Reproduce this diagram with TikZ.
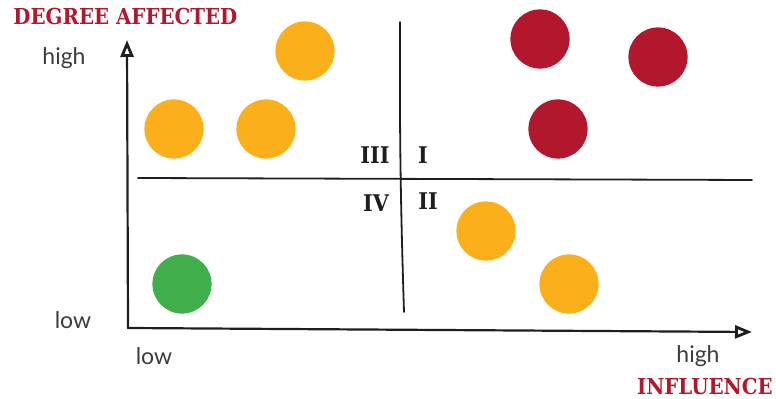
\documentclass[tikz,border=0pt]{standalone}
\usepackage{fontspec}
\usetikzlibrary{arrows.meta,positioning}
\setsansfont{Lato}
\newfontfamily\slabfont[FakeStretch=0.9]{DejaVu Serif}
\definecolor{gridred}{HTML}{B3172D}
\definecolor{gridorange}{HTML}{FBAF1B}
\definecolor{gridgreen}{HTML}{40AE4B}
\definecolor{gridink}{HTML}{1E1E1E}
\definecolor{gridgrey}{HTML}{3C3C3C}
\tikzset{
  grid dot/.style={
    circle,
    draw=none,
    minimum size=29.6pt,
    inner sep=0pt,
  },
  grid dot red/.style={grid dot, fill=gridred},
  grid dot orange/.style={grid dot, fill=gridorange},
  grid dot green/.style={grid dot, fill=gridgreen},
  grid axis/.style={
    -{Triangle[open, length=8.5pt, width=6.5pt, line width=1.4pt]},
    line width=1.1pt,
    draw=gridink,
    line cap=round,
  },
  grid divider/.style={line width=0.9pt, draw=gridink, line cap=round},
  grid title/.style={font=\slabfont\bfseries\fontsize{11}{13}\selectfont, text=gridred, inner sep=0pt},
  grid quadrant/.style={font=\slabfont\bfseries\fontsize{11.5}{13}\selectfont, text=gridink, inner sep=0pt},
  grid level/.style={font=\sffamily\fontsize{11.5}{13}\selectfont, text=gridgrey, inner sep=0pt},
}

\begin{document}
\begin{tikzpicture}[x=0.5pt, y=-0.5pt]

  \useasboundingbox (0,0) rectangle (776,399);

  % --- Axes ---
  \coordinate (origin) at (128,328);
  \coordinate (ytip) at (127,40);
  \coordinate (xtip) at (752,332);
  \draw[grid axis] (origin) -- (ytip);
  \draw[grid axis] (origin) -- (xtip);

  % --- Quadrant dividers ---
  \coordinate (hleft) at (138,178);
  \coordinate (hright) at (752,180);
  \coordinate (vtop) at (400,22);
  \coordinate (vbottom) at (404,312);
  \draw[grid divider] (hleft) -- (hright);
  \draw[grid divider] (vtop) to[bend right=1] (vbottom);

  % --- Axis titles ---
  \node[grid title, anchor=west] (ytitle) at (13,17) {DEGREE AFFECTED};
  \node[grid title, anchor=east] (xtitle) at (773,386) {INFLUENCE};

  % --- Axis levels ---
  \node[grid level] (yhigh) at (64,58) {high};
  \node[grid level] (ylow) at (73,320) {low};
  \node[grid level] (xlow) at (154,356) {low};
  \node[grid level] (xhigh) at (698,356) {high};

  % --- Quadrant numerals ---
  \node[grid quadrant] (q3) at (375,155) {III};
  \node[grid quadrant] (q1) at (423,155) {I};
  \node[grid quadrant] (q4) at (376,203) {IV};
  \node[grid quadrant] (q2) at (428,201) {II};

  % --- Stakeholder dots ---
  \node[grid dot orange] (o1) at (305,51) {};
  \node[grid dot orange] (o2) at (174,129) {};
  \node[grid dot orange] (o3) at (266,129) {};
  \node[grid dot red] (r1) at (540,39) {};
  \node[grid dot red] (r2) at (658,57) {};
  \node[grid dot red] (r3) at (558,129) {};
  \node[grid dot orange] (o4) at (486,231) {};
  \node[grid dot orange] (o5) at (569,284) {};
  \node[grid dot green] (g1) at (182,284) {};

\end{tikzpicture}
\end{document}
